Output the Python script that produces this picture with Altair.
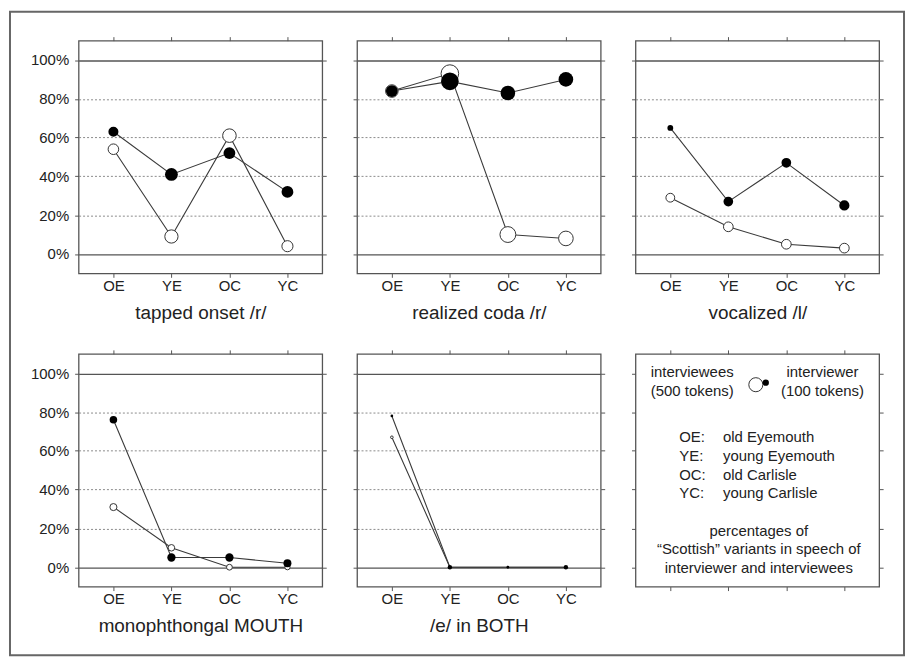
import altair as alt
import pandas as pd

# ---------------- data ----------------
groups = ["OE", "YE", "OC", "YC"]
panel_titles = ["tapped onset /r/", "realized coda /r/", "vocalized /l/",
                "monophthongal MOUTH", "/e/ in BOTH"]
# percentages of "Scottish" variants
interviewer_pct = [[63, 41, 52, 32], [84, 89, 83, 90], [65, 27, 47, 25],
                   [76, 5, 5, 2], [78, 0, 0, 0]]
interviewees_pct = [[54, 9, 61, 4], [84, 93, 10, 8], [29, 14, 5, 3],
                    [31, 10, 0, 0], [67, 0, 0, 0]]
# token counts (symbol area is proportional to them)
interviewer_tokens = [[255, 419, 353, 353], [353, 785, 541, 541], [86, 238, 238, 264],
                      [145, 174, 174, 159], [18, 49, 18, 49]]
interviewees_tokens = [[283, 442, 466, 312], [400, 785, 636, 541], [196, 238, 238, 238],
                       [126, 108, 86, 70], [18, 8, 8, 8]]
y_ticks = [0, 20, 40, 60, 80, 100]

legend_left = ["interviewees", "(500 tokens)"]
legend_right = ["interviewer", "(100 tokens)"]
legend_tokens = [500, 100]
legend_codes = ["OE:", "YE:", "OC:", "YC:"]
legend_names = ["old Eyemouth", "young Eyemouth", "old Carlisle", "young Carlisle"]
legend_note = ["percentages of", "\u201cScottish\u201d variants in speech of",
               "interviewer and interviewees"]

# ---------------- build table ----------------
rows = []
for p, title in enumerate(panel_titles):
    for i, g in enumerate(groups):
        rows.append(dict(panel=title, group=g, idx=i, series="interviewees",
                         pct=interviewees_pct[p][i], tokens=interviewees_tokens[p][i]))
        rows.append(dict(panel=title, group=g, idx=i, series="interviewer",
                         pct=interviewer_pct[p][i], tokens=interviewer_tokens[p][i]))
df = pd.DataFrame(rows)

W, H = 245, 234
FONT = "Liberation Sans"
TXT = "#222222"
AX = "#555555"

xscale = alt.Scale(type="point", domain=groups, padding=0.6)
yscale = alt.Scale(domain=[-10, 110], nice=False, zero=False)
sscale = alt.Scale(domain=[0, 1000], range=[0, 400])

edge = "datum.value == 0 || datum.value == 100"


def bottom_axis(title):
    kw = dict(orient="bottom", labels=title is not None, ticks=True, tickSize=4,
              tickColor=AX, domain=False, grid=False, labelAngle=0, labelFont=FONT,
              labelFontSize=15, labelColor=TXT, labelPadding=1)
    if title is not None:
        kw.update(title=title, titleFont=FONT, titleFontSize=19, titleFontWeight="normal",
                  titleColor=TXT, titlePadding=10)
    else:
        kw.update(title=None)
    return alt.Axis(**kw)


def left_axis(show_labels, grid):
    kw = dict(orient="left", values=y_ticks, title=None, labels=show_labels,
              labelExpr="datum.value + '%'", labelFont=FONT, labelFontSize=15,
              labelColor=TXT, labelPadding=6, tickSize=4, tickColor=AX, domain=False,
              grid=grid)
    if grid:
        kw.update(gridDash={"condition": {"test": edge, "value": []}, "value": [2, 2]},
                  gridColor={"condition": {"test": edge, "value": "#555555"}, "value": "#8a8a8a"},
                  gridWidth={"condition": {"test": edge, "value": 1.3}, "value": 1})
    return alt.Axis(**kw)


top_axis = alt.Axis(orient="top", labels=False, title=None, ticks=True, tickSize=4,
                    tickColor=AX, domain=False, grid=False)
right_axis = alt.Axis(orient="right", values=y_ticks, labels=False, title=None, ticks=True,
                      tickSize=4, tickColor=AX, domain=False, grid=False)

one = pd.DataFrame({"k": [0]})


def data_panel(title, ylabels, frame=False):
    d = df[df.panel == title]
    layers = []
    if frame:
        layers.append(alt.Chart(one).mark_rect(fill="transparent", stroke="#666666",
                                               strokeWidth=2).encode(
            x=alt.value(-69), x2=alt.value(830), y=alt.value(-29), y2=alt.value(618)))
    lines = alt.Chart(d).mark_line(color="#3a3a3a", strokeWidth=1.1).encode(
        x=alt.X("group:N", scale=xscale, axis=bottom_axis(title)),
        y=alt.Y("pct:Q", scale=yscale, axis=left_axis(ylabels, True)),
        detail="series:N",
        order=alt.Order("idx:Q"),
    )
    opened = alt.Chart(d[d.series == "interviewees"]).mark_point(
        shape="circle", filled=True, fill="white", stroke="#333333", strokeWidth=1,
        opacity=1).encode(
        x=alt.X("group:N", scale=xscale, axis=top_axis),
        y=alt.Y("pct:Q", scale=yscale, axis=right_axis),
        size=alt.Size("tokens:Q", scale=sscale, legend=None),
    )
    full = alt.Chart(d[d.series == "interviewer"]).mark_circle(
        color="black", opacity=1).encode(
        x=alt.X("group:N", scale=xscale, axis=None),
        y=alt.Y("pct:Q", scale=yscale, axis=None),
        size=alt.Size("tokens:Q", scale=sscale, legend=None),
    )
    layers += [lines, opened, full]
    return alt.layer(*layers).resolve_axis(x="independent", y="independent").properties(
        width=W, height=H)


def text_block(lines, x, y, align, lh):
    # y is the centre of the first line
    return alt.Chart(one).mark_text(text=lines, align=align, baseline="middle", font=FONT,
                                    fontSize=15, color=TXT, lineHeight=lh).encode(
        x=alt.value(x), y=alt.value(y))


def legend_panel():
    base = pd.DataFrame({"group": groups, "pct": [50] * 4})
    ax1 = alt.Chart(base).mark_point(opacity=0).encode(
        x=alt.X("group:N", scale=xscale, axis=bottom_axis(None)),
        y=alt.Y("pct:Q", scale=yscale, axis=left_axis(False, False)),
    )
    ax2 = alt.Chart(base).mark_point(opacity=0).encode(
        x=alt.X("group:N", scale=xscale, axis=top_axis),
        y=alt.Y("pct:Q", scale=yscale, axis=right_axis),
    )
    sym_open = alt.Chart(pd.DataFrame({"tokens": [legend_tokens[0]]})).mark_point(
        shape="circle", filled=True, fill="white", stroke="#333333", strokeWidth=1,
        opacity=1).encode(x=alt.value(121), y=alt.value(31),
                          size=alt.Size("tokens:Q", scale=sscale, legend=None))
    sym_full = alt.Chart(pd.DataFrame({"tokens": [legend_tokens[1]]})).mark_circle(
        color="black", opacity=1).encode(x=alt.value(131), y=alt.value(29),
                                         size=alt.Size("tokens:Q", scale=sscale, legend=None))
    t1 = text_block(legend_left, 57, 18, "center", 19)
    t2 = text_block(legend_right, 188, 18, "center", 19)
    t3 = text_block(legend_codes, 44, 84, "left", 18.7)
    t4 = text_block(legend_names, 88, 84, "left", 18.7)
    t5 = text_block(legend_note, 124, 178, "center", 18.5)
    return alt.layer(ax1, ax2, sym_open, sym_full, t1, t2, t3, t4, t5).resolve_axis(
        x="independent", y="independent").properties(width=W, height=H)


panels = [
    data_panel(panel_titles[0], True, frame=True),
    data_panel(panel_titles[1], False),
    data_panel(panel_titles[2], False),
    data_panel(panel_titles[3], True),
    data_panel(panel_titles[4], False),
    legend_panel(),
]

chart = alt.concat(*panels, columns=3, bounds="flush",
                   spacing={"row": 81, "column": 35}).properties(
    padding=0, background="white"
).configure_view(stroke="#555555", strokeWidth=1.3)

chart.save("out.html", embed_options={"renderer": "svg", "actions": False})
